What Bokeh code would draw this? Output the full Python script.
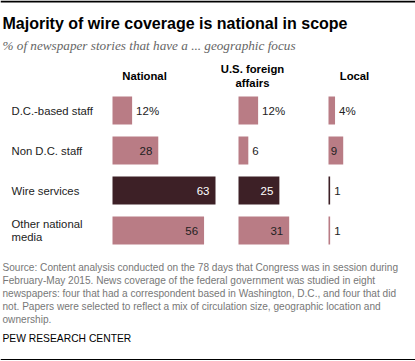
from bokeh.plotting import figure
from bokeh.models import Range1d, ColumnDataSource, Span
from bokeh.core.properties import value
from bokeh.embed import file_html
from bokeh.resources import INLINE

# ---------------- data ----------------
rows = ["D.C.-based staff", "Non D.C. staff", "Wire services", "Other national media"]
row_label_lines = [["D.C.-based staff"], ["Non D.C. staff"], ["Wire services"], ["Other national", "media"]]
national = [12, 28, 63, 56]
foreign = [12, 6, 25, 31]
local = [4, 9, 1, 1]
panel_titles = [["National"], ["U.S. foreign", "affairs"], ["Local"]]
title = "Majority of wire coverage is national in scope"
subtitle = "% of newspaper stories that have a ... geographic focus"
footer_lines = [
    "Source: Content analysis conducted on the 78 days that Congress was in session during",
    "February-May 2015. News coverage of the federal government was studied in eight",
    "newspapers: four that had a correspondent based in Washington, D.C., and four that did",
    "not. Papers were selected to reflect a mix of circulation size, geographic location and",
    "ownership.",
]
credit = "PEW RESEARCH CENTER"

# ---------------- layout ----------------
W, H = 415, 361
PINK = "#B97C85"
DARK = "#3D2026"
FONT = "Liberation Sans"
K = 1.635                      # pixels per percentage point
panel_starts = [112, 238, 328]  # pixel x where each panel's zero sits
panel_centers = [144, 252, 354]
row_y0, row_step, bar_h = 110, 40, 28

p = figure(width=W, height=H, output_backend="svg", toolbar_location=None,
           x_range=Range1d(0, W), y_range=Range1d(H, 0), min_border=0)
p.axis.visible = False
p.grid.visible = False
p.outline_line_color = None
p.background_fill_color = "white"
p.border_fill_color = "white"

names = ["nat", "for", "loc"]
for nm, s in zip(names, panel_starts):
    p.extra_x_ranges[nm] = Range1d(-s / K, (W - s) / K)

row_y = [row_y0 + i * row_step for i in range(len(rows))]
bar_colors = [DARK if r == "Wire services" else PINK for r in rows]

for nm, vals in zip(names, [national, foreign, local]):
    src = ColumnDataSource(dict(y=row_y, v=vals, c=bar_colors))
    p.hbar(y="y", left=0, right="v", height=bar_h, color="c", source=src,
           x_range_name=nm, line_color=None)
    inside = [(v >= 9 and i != 0) for i, v in enumerate(vals)]
    txt = [f"{v}%" if i == 0 else str(v) for i, v in enumerate(vals)]
    in_src = ColumnDataSource(dict(
        x=[v for v, f in zip(vals, inside) if f],
        y=[y for y, f in zip(row_y, inside) if f],
        t=[t for t, f in zip(txt, inside) if f],
        c=["white" if c == DARK else "#222222" for c, f in zip(bar_colors, inside) if f]))
    out_src = ColumnDataSource(dict(
        x=[v for v, f in zip(vals, inside) if not f],
        y=[y for y, f in zip(row_y, inside) if not f],
        t=[t for t, f in zip(txt, inside) if not f]))
    p.text(x="x", y="y", text="t", source=in_src, x_range_name=nm, text_align="right",
           text_baseline="middle", x_offset=-6, text_color="c",
           text_font=value(FONT), text_font_size="11.5px")
    p.text(x="x", y="y", text="t", source=out_src, x_range_name=nm, text_align="left",
           text_baseline="middle", x_offset=4, text_color="#222222",
           text_font=value(FONT), text_font_size="11.5px")

# row labels
lx, ly, lt = [], [], []
for yc, lines in zip(row_y, row_label_lines):
    n = len(lines)
    for j, ln in enumerate(lines):
        lx.append(11)
        ly.append(yc + (j - (n - 1) / 2) * 13.5)
        lt.append(ln)
p.text(x=lx, y=ly, text=lt, text_align="left", text_baseline="middle",
       text_color="#222222", text_font=value(FONT), text_font_size="11.3px")

# panel headers
hx, hy, ht = [], [], []
for cx, lines in zip(panel_centers, panel_titles):
    n = len(lines)
    for j, ln in enumerate(lines):
        hx.append(cx)
        hy.append(75 + (j - (n - 1) / 2) * 14)
        ht.append(ln)
p.text(x=hx, y=hy, text=ht, text_align="center", text_baseline="middle",
       text_color="#000000", text_font=value(FONT), text_font_size="11.3px",
       text_font_style="bold")

# title + subtitle
p.text(x=[2], y=[23], text=[title], text_align="left", text_baseline="middle",
       text_color="#000000", text_font=value(FONT), text_font_size="16px",
       text_font_style="bold")
p.text(x=[2], y=[45], text=[subtitle], text_align="left", text_baseline="middle",
       text_color="#666666", text_font=value("Liberation Serif"), text_font_size="13.2px",
       text_font_style="italic")

# footer
fy = [267 + i * 13 for i in range(len(footer_lines))]
p.text(x=[2] * len(footer_lines), y=fy, text=footer_lines, text_align="left",
       text_baseline="middle", text_color="#777777", text_font=value(FONT),
       text_font_size="10.1px")
p.text(x=[2], y=[338], text=[credit], text_align="left", text_baseline="middle",
       text_color="#000000", text_font=value(FONT), text_font_size="10.3px")

p.add_layout(Span(location=1, dimension="width", line_color="#000000", line_width=2))
p.add_layout(Span(location=359, dimension="width", line_color="#000000", line_width=1))

open("out.html", "w").write(file_html(p, INLINE))
